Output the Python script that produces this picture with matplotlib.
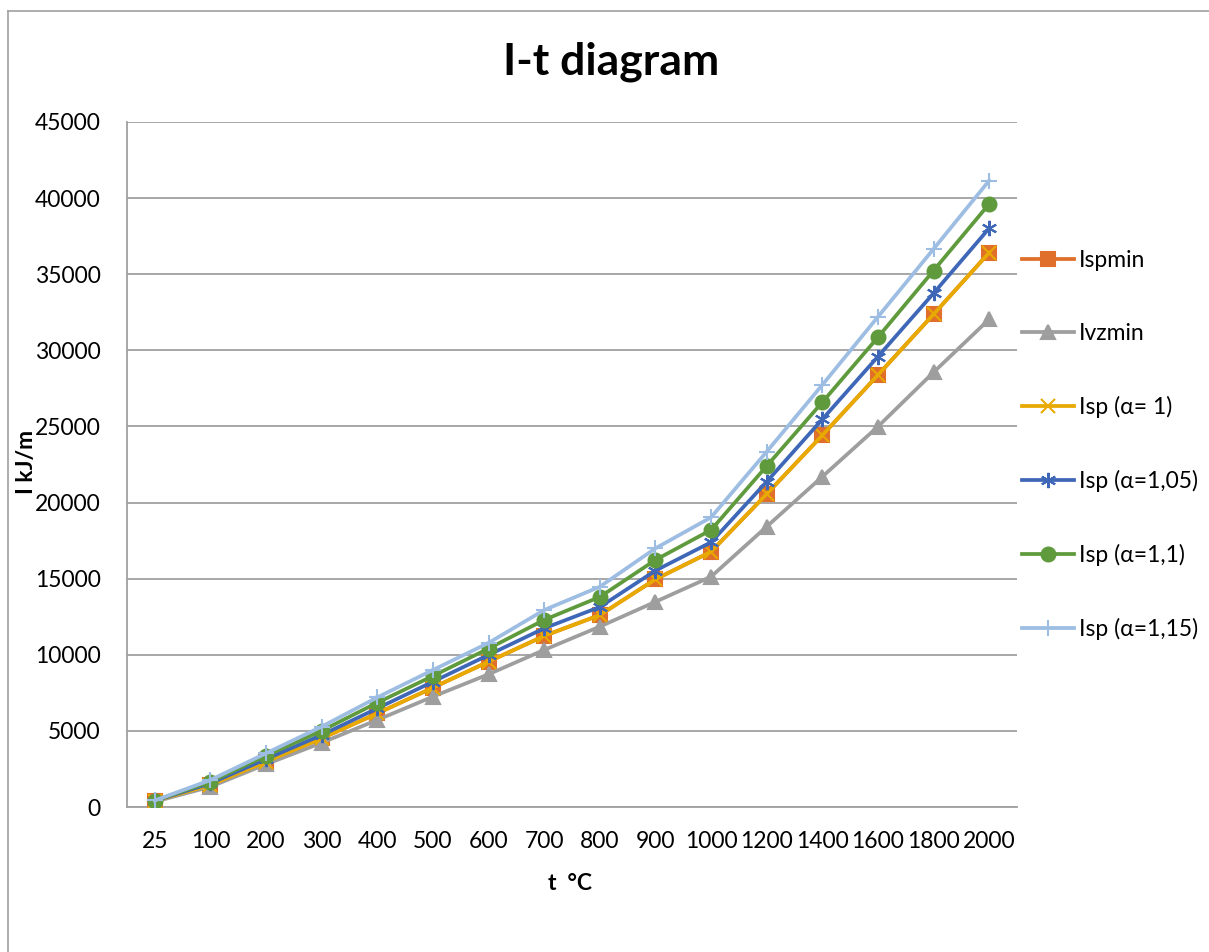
import matplotlib
matplotlib.use("Agg")
import matplotlib.pyplot as plt
from matplotlib.lines import Line2D
import numpy as np

plt.rcParams['font.family'] = ['Lato', 'DejaVu Sans']

temps = ["25", "100", "200", "300", "400", "500", "600", "700", "800", "900",
         "1000", "1200", "1400", "1600", "1800", "2000"]

ispmin = [400, 1450, 2980, 4510, 6150, 7840, 9550, 11240, 12610, 14960,
          16770, 20560, 24420, 28380, 32370, 36420]
ivzmin = [350, 1330, 2810, 4220, 5720, 7250, 8720, 10320, 11850, 13480,
          15130, 18420, 21700, 24990, 28560, 32040]
isp_a100 = ispmin
isp_a105 = [410, 1560, 3150, 4730, 6480, 8230, 9990, 11740, 13140, 15530,
            17390, 21370, 25470, 29590, 33750, 38020]
isp_a110 = [420, 1660, 3370, 5010, 6850, 8610, 10410, 12290, 13800, 16230,
            18200, 22400, 26590, 30860, 35240, 39620]
isp_a115 = [430, 1770, 3530, 5280, 7200, 9000, 10780, 12940, 14470, 16990,
            19030, 23340, 27730, 32200, 36660, 41150]

series = [
    ("Ispmin", ispmin, "#DF6F2A", "s", 10),
    ("Ivzmin", ivzmin, "#9E9E9E", "^", 10),
    ("Isp (α= 1)", isp_a100, "#E8A900", "x", 10),
    ("Isp (α=1,05)", isp_a105, "#3E67B8", (6, 2, 0), 11),
    ("Isp (α=1,1)", isp_a110, "#5F9B3D", "o", 10),
    ("Isp (α=1,15)", isp_a115, "#9DBDE3", "+", 12),
]

fig = plt.figure(figsize=(12.09, 9.52), dpi=100)
ax = fig.add_axes([127 / 1209, 1 - 807 / 952, 890 / 1209, 685 / 952])

x = np.arange(len(temps))
for name, vals, col, mk, ms in series:
    ax.plot(x, vals, color=col, linewidth=2.7, marker=mk, markersize=ms,
            markeredgewidth=1.5, markerfacecolor=col, markeredgecolor=col,
            label=name, zorder=3)

ax.set_xlim(-0.5, len(temps) - 0.5)
ax.set_ylim(0, 45000)
ax.set_yticks(np.arange(0, 45001, 5000))
ax.set_xticks(x)
ax.set_xticklabels(temps)
ax.tick_params(axis='both', length=0, labelsize=16.5, colors='black')
ax.tick_params(axis='x', pad=17)
ax.tick_params(axis='y', pad=19)
ax.grid(axis='y', color='#A0A0A0', linewidth=1.3)
ax.set_axisbelow(True)
for s in ['top', 'right']:
    ax.spines[s].set_visible(False)
for s in ['left', 'bottom']:
    ax.spines[s].set_color('#A0A0A0')
    ax.spines[s].set_linewidth(1.3)

fig.text(611 / 1209, 1 - 62 / 952, "I-t diagram", ha='center', va='center',
         fontsize=32, fontweight='bold')
fig.text(27 / 1209, 1 - 462 / 952, "I kJ/m", rotation=90, ha='center',
         va='center', fontsize=16.5, fontweight='bold')
fig.text(570 / 1209, 1 - 883 / 952, "t  °C", ha='center', va='center',
         fontsize=16.5, fontweight='bold')

leg = ax.legend(loc='upper left', bbox_to_anchor=(1.0, 1 - (245 - 122) / 685),
                frameon=False, fontsize=16.5, labelspacing=2.27,
                handlelength=2.3, handletextpad=0.2, borderaxespad=0.0,
                borderpad=0.2)

# chart area border
fig.add_artist(Line2D([8 / 1209, 8 / 1209], [0, 1 - 11 / 952],
                      transform=fig.transFigure, color='#A0A0A0', linewidth=1.2))
fig.add_artist(Line2D([8 / 1209, 1], [1 - 11 / 952, 1 - 11 / 952],
                      transform=fig.transFigure, color='#A0A0A0', linewidth=1.2))

fig.savefig("out.png", dpi=100)
